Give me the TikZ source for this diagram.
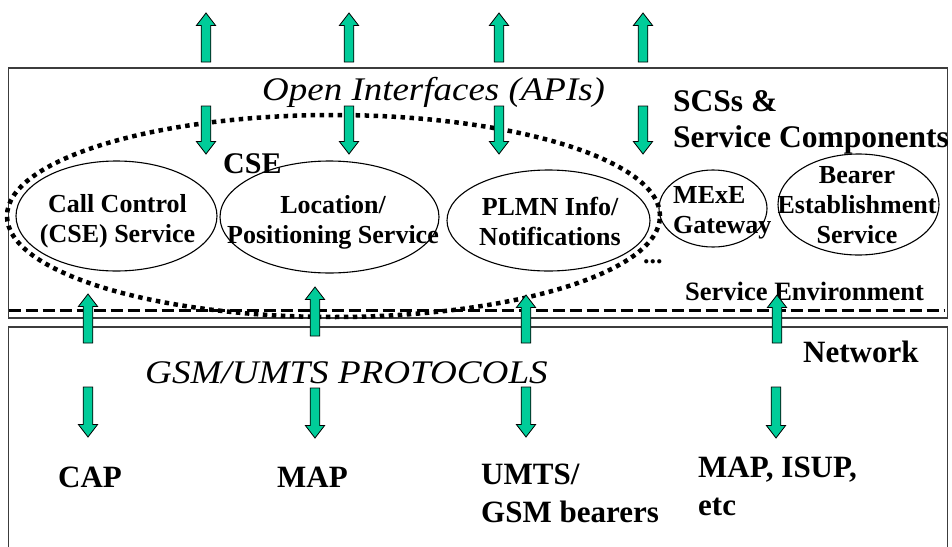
\documentclass[tikz,border=0pt]{standalone}
\usepackage{fontspec}
\usepackage{graphicx}
\setmainfont{Liberation Serif}
\usetikzlibrary{shapes.geometric}
\definecolor{agreen}{RGB}{0,204,153}
\definecolor{boxgray}{RGB}{60,60,60}
\tikzset{
  blockarrow/.style={fill=agreen,draw=black,line width=0.8pt,line join=miter},
  framebox/.style={draw=boxgray,line width=1.4pt},
  svc/.style={ellipse,draw=black,line width=1.1pt,inner sep=0pt},
  lbl/.style={inner sep=0pt,anchor=base west},
  clbl/.style={inner sep=0pt,anchor=base,align=center},
  llbl/.style={inner sep=0pt,anchor=base west,align=left},
  fsvc/.style={font=\fontsize{26}{30}\selectfont\bfseries},
  fbig/.style={font=\fontsize{31}{37.5}\selectfont\bfseries},
  fscs/.style={font=\fontsize{31.5}{36}\selectfont\bfseries},
  fcse/.style={font=\fontsize{30}{36}\selectfont\bfseries},
  fmid/.style={font=\fontsize{26.5}{32}\selectfont\bfseries},
  fital/.style={font=\fontsize{33}{40}\selectfont\itshape},
}
\newcommand{\ArrUp}[3]{%
  \filldraw[blockarrow] (#1-4.8,#3) -- (#1-4.8,#2+12.5) -- (#1-9.6,#2+12.5) -- (#1,#2) -- (#1+9.6,#2+12.5) -- (#1+4.8,#2+12.5) -- (#1+4.8,#3) -- cycle;}
\newcommand{\ArrDown}[3]{%
  \filldraw[blockarrow] (#1-4.8,#2) -- (#1-4.8,#3-12.5) -- (#1-9.6,#3-12.5) -- (#1,#3) -- (#1+9.6,#3-12.5) -- (#1+4.8,#3-12.5) -- (#1+4.8,#2) -- cycle;}
\begin{document}
\begin{tikzpicture}[x=1pt,y=-1pt]
\clip (0,0) rectangle (952,546);
\fill[white] (0,0) rectangle (952,546);
% frames
\draw[framebox] (8.5,68) rectangle (947.5,318);
\draw[framebox] (8.5,327) rectangle (947.5,560);
% service environment boundary
\draw[line width=3pt,dash pattern=on 12pt off 5pt] (8.5,310) -- (944,310);
% service ellipses
\node[svc,minimum width=201pt,minimum height=110pt] (cc) at (116.5,216) {};
\node[svc,minimum width=219pt,minimum height=112pt] (loc) at (329.5,217) {};
\node[svc,minimum width=203pt,minimum height=101pt] (plmn) at (548.5,220.5) {};
\node[svc,minimum width=108pt,minimum height=77pt] (mexe) at (713,208.5) {};
\node[svc,minimum width=161pt,minimum height=101pt] (bearer) at (858.5,204.5) {};
% CSE dotted ellipse
\node[ellipse,draw=black,line width=4.5pt,dash pattern=on 4.5pt off 4.5pt,inner sep=0pt,
      minimum width=653pt,minimum height=202pt] (cse) at (333.5,216) {};
% texts in ellipses (base anchor = last line's baseline)
\node[clbl,fsvc] (cctxt) at (117.5,242) {Call Control\\(CSE) Service};
\node[clbl,fsvc] (loctxt) at (333,243) {Location/\\Positioning Service};
\node[clbl,fsvc] (plmntxt) at (550,245) {PLMN Info/\\Notifications};
\node[llbl,fsvc] (mexetxt) at (673,233) {MExE\\Gateway};
\node[clbl,fsvc] (bearertxt) at (857,243) {Bearer\\Establishment\\Service};
\node[lbl,fsvc] (dots) at (643,263) {...};
% other labels
\node[lbl,fital] (api) at (262,100) {\scalebox{1.12}[1]{Open Interfaces (APIs)}};
\node[llbl,fscs] (scs) at (673,147) {SCSs \&\\Service Components};
\node[lbl,fcse] (csel) at (223,173) {CSE};
\node[lbl,fmid] (senv) at (685,300) {Service Environment};
\node[lbl,fbig] (net) at (803,362) {Network};
\node[lbl,fital] (proto) at (145,383) {\scalebox{1.125}[1]{GSM/UMTS PROTOCOLS}};
\node[lbl,fbig] (cap) at (58,487) {CAP};
\node[lbl,fbig] (map) at (277,487) {MAP};
\node[llbl,fbig] (umts) at (481,522) {UMTS/\\GSM bearers};
\node[llbl,fbig] (isup) at (698,515) {MAP, ISUP,\\etc};
% block arrows
\foreach \xx in {206,349,499,643} {\ArrUp{\xx}{13}{62}}
\foreach \xx in {206,349,499,643} {\ArrDown{\xx}{106}{154}}
\ArrUp{88}{294}{343}
\ArrUp{315}{287}{336}
\ArrUp{526}{295}{343}
\ArrUp{777}{295}{343}
\ArrDown{88}{387}{437}
\ArrDown{315}{388}{438}
\ArrDown{526}{387}{437}
\ArrDown{776}{387}{438}
\end{tikzpicture}
\end{document}
